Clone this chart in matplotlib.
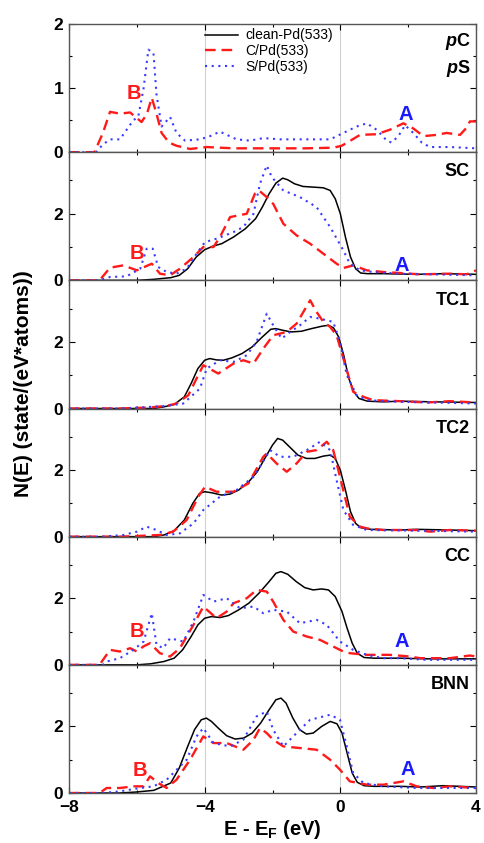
import matplotlib
matplotlib.use("Agg")
import matplotlib.pyplot as plt
from matplotlib.ticker import MultipleLocator

plt.rcParams['font.family'] = ['Liberation Sans', 'DejaVu Sans']
plt.rcParams['mathtext.fontset'] = 'custom'
plt.rcParams['mathtext.rm'] = 'Liberation Sans:bold'
plt.rcParams['mathtext.bf'] = 'Liberation Sans:bold'
plt.rcParams['mathtext.it'] = 'Liberation Sans:italic:bold'

# --- data (E - E_F in eV, N(E)) ---

# panel pC / pS
p1_c_E = [-8, -7.25, -7.0, -6.79, -6.5, -6.2, -5.86, -5.7, -5.56, -5.42, -5.27, -5.05, -4.83, -4.43, -3.94, -3.15, -2.0, -1.0, -0.2, 0.04, 0.3, 0.58, 1.07, 1.46, 1.86, 2.15, 2.45, 2.84, 3.13, 3.53, 3.72, 3.82, 4.0]
p1_c_N = [0, 0, 0.3, 0.63, 0.6, 0.62, 0.47, 0.6, 0.85, 0.6, 0.3, 0.15, 0.1, 0.05, 0.08, 0.06, 0.06, 0.06, 0.07, 0.1, 0.18, 0.27, 0.28, 0.35, 0.45, 0.37, 0.25, 0.27, 0.3, 0.27, 0.38, 0.48, 0.48]
p1_s_E = [-8, -7.2, -7.0, -6.79, -6.5, -6.1, -5.96, -5.8, -5.66, -5.51, -5.42, -5.27, -5.02, -4.83, -4.58, -4.14, -3.84, -3.55, -3.06, -2.66, -2.27, -1.78, -1.19, -0.7, -0.3, 0.09, 0.48, 0.78, 1.07, 1.37, 1.51, 1.71, 1.91, 2.15, 2.4, 2.64, 3.23, 4.0]
p1_s_N = [0, 0, 0.12, 0.2, 0.2, 0.5, 0.55, 1.0, 1.6, 1.55, 0.9, 0.4, 0.55, 0.3, 0.18, 0.2, 0.25, 0.32, 0.2, 0.18, 0.22, 0.2, 0.2, 0.2, 0.2, 0.3, 0.4, 0.45, 0.35, 0.18, 0.15, 0.25, 0.42, 0.3, 0.15, 0.08, 0.08, 0.06]

# panel SC
sc_pd_E = [-8, -6.0, -5.5, -5.0, -4.75, -4.5, -4.25, -4.0, -3.75, -3.5, -3.15, -2.8, -2.5, -2.3, -2.1, -1.9, -1.7, -1.55, -1.35, -1.1, -0.8, -0.5, -0.3, -0.15, 0.0, 0.15, 0.3, 0.45, 0.6, 0.8, 1.27, 2.25, 3.04, 4.0]
sc_pd_N = [0, 0, 0.03, 0.08, 0.15, 0.35, 0.7, 0.92, 1.03, 1.1, 1.3, 1.55, 1.85, 2.2, 2.6, 2.92, 3.07, 3.02, 2.9, 2.82, 2.8, 2.78, 2.7, 2.45, 2.0, 1.3, 0.7, 0.35, 0.22, 0.2, 0.2, 0.18, 0.2, 0.18]
sc_c_E = [-8, -7.1, -6.79, -6.4, -6.0, -5.56, -5.32, -5.02, -4.73, -4.33, -4.04, -3.74, -3.55, -3.25, -2.76, -2.52, -2.4, -2.17, -1.98, -1.68, -1.29, -0.89, -0.5, -0.11, 0.09, 0.38, 0.78, 1.27, 1.76, 2.35, 3.23, 3.72, 4.0]
sc_c_N = [0, 0, 0.38, 0.45, 0.3, 0.5, 0.2, 0.15, 0.35, 0.7, 1.0, 1.0, 1.3, 1.9, 2.0, 2.6, 2.7, 2.5, 2.3, 1.7, 1.35, 1.1, 0.8, 0.5, 0.37, 0.45, 0.3, 0.25, 0.22, 0.18, 0.2, 0.18, 0.3]
sc_s_E = [-8, -7.1, -6.79, -6.3, -5.9, -5.71, -5.53, -5.37, -5.12, -4.83, -4.53, -4.24, -3.99, -3.65, -3.15, -2.86, -2.56, -2.37, -2.17, -2.02, -1.68, -1.19, -0.7, -0.3, 0.09, 0.28, 0.58, 0.97, 1.76, 2.74, 4.0]
sc_s_N = [0, 0, 0.1, 0.12, 0.35, 0.95, 0.95, 0.4, 0.25, 0.2, 0.35, 0.8, 1.15, 1.25, 1.45, 1.6, 2.0, 2.9, 3.45, 3.1, 2.7, 2.5, 2.2, 1.6, 0.9, 0.5, 0.3, 0.25, 0.2, 0.18, 0.15]

# panel TC1
tc1_pd_E = [-8, -5.5, -5.2, -4.9, -4.6, -4.4, -4.2, -4.0, -3.85, -3.65, -3.45, -3.2, -2.9, -2.6, -2.3, -2.05, -1.9, -1.7, -1.45, -1.15, -0.85, -0.55, -0.35, -0.2, -0.05, 0.1, 0.25, 0.4, 0.55, 0.8, 1.27, 1.76, 2.74, 4.0]
tc1_pd_N = [0, 0, 0.05, 0.12, 0.35, 0.75, 1.2, 1.45, 1.5, 1.46, 1.45, 1.52, 1.65, 1.85, 2.15, 2.38, 2.4, 2.35, 2.3, 2.32, 2.4, 2.47, 2.5, 2.42, 2.15, 1.6, 0.9, 0.5, 0.3, 0.22, 0.2, 0.22, 0.2, 0.18]
tc1_c_E = [-8, -6.5, -5.6, -5.12, -4.83, -4.48, -4.24, -4.04, -3.6, -3.15, -2.86, -2.56, -2.27, -1.98, -1.58, -1.29, -0.89, -0.7, -0.5, -0.3, -0.11, 0.09, 0.38, 0.68, 0.97, 1.76, 2.55, 3.23, 4.0]
tc1_c_N = [0, 0, 0.03, 0.08, 0.15, 0.4, 0.9, 1.3, 1.05, 1.35, 1.45, 1.35, 1.8, 2.2, 2.3, 2.55, 3.25, 2.9, 2.6, 2.45, 2.2, 1.5, 0.5, 0.35, 0.25, 0.22, 0.18, 0.22, 0.18]
tc1_s_E = [-8, -6.5, -5.9, -5.12, -4.63, -4.14, -3.94, -3.55, -3.15, -2.76, -2.47, -2.17, -1.98, -1.73, -1.48, -1.19, -0.89, -0.6, -0.21, -0.01, 0.19, 0.48, 0.78, 1.76, 2.74, 4.0]
tc1_s_N = [0, 0, 0.03, 0.08, 0.15, 0.6, 1.2, 1.45, 1.4, 1.6, 2.0, 2.85, 2.5, 2.1, 2.3, 2.5, 2.75, 2.7, 2.6, 2.0, 1.0, 0.4, 0.25, 0.2, 0.18, 0.15]

# panel TC2
tc2_pd_E = [-8, -5.5, -5.2, -4.9, -4.6, -4.35, -4.15, -4.0, -3.8, -3.5, -3.25, -3.0, -2.7, -2.45, -2.2, -2.0, -1.85, -1.7, -1.5, -1.25, -1.0, -0.75, -0.5, -0.3, -0.15, 0.0, 0.15, 0.3, 0.45, 0.6, 0.9, 1.76, 2.25, 3.23, 4.0]
tc2_pd_N = [0, 0, 0.05, 0.18, 0.5, 1.0, 1.3, 1.35, 1.32, 1.25, 1.28, 1.4, 1.65, 1.95, 2.4, 2.75, 2.95, 2.9, 2.7, 2.45, 2.35, 2.35, 2.42, 2.45, 2.35, 2.0, 1.4, 0.75, 0.4, 0.27, 0.22, 0.2, 0.22, 0.2, 0.18]
tc2_c_E = [-8, -6.5, -6.0, -5.32, -4.93, -4.53, -4.19, -3.99, -3.65, -3.15, -2.71, -2.27, -2.17, -1.88, -1.58, -1.29, -0.99, -0.7, -0.4, -0.21, -0.01, 0.28, 0.58, 0.78, 1.27, 2.25, 2.64, 3.23, 4.0]
tc2_c_N = [0, 0, 0.02, 0.05, 0.15, 0.5, 1.2, 1.5, 1.35, 1.35, 1.6, 2.4, 2.5, 2.2, 1.95, 2.2, 2.55, 2.6, 2.85, 2.6, 1.8, 0.6, 0.3, 0.25, 0.2, 0.2, 0.15, 0.2, 0.18]
tc2_s_E = [-8, -7.0, -6.4, -6.0, -5.71, -5.42, -5.12, -4.73, -4.33, -4.04, -3.55, -3.06, -2.56, -2.07, -1.78, -1.39, -0.99, -0.6, -0.3, -0.11, 0.09, 0.38, 0.78, 2.25, 4.0]
tc2_s_N = [0, 0, 0.05, 0.15, 0.3, 0.2, 0.05, 0.1, 0.4, 0.8, 1.2, 1.4, 1.8, 2.6, 2.4, 2.4, 2.6, 2.85, 2.6, 1.7, 0.8, 0.35, 0.2, 0.18, 0.15]

# panel CC
cc_pd_E = [-8, -6.0, -5.6, -5.2, -4.9, -4.65, -4.4, -4.2, -4.0, -3.8, -3.55, -3.3, -3.0, -2.7, -2.4, -2.1, -1.9, -1.75, -1.55, -1.3, -1.05, -0.8, -0.55, -0.35, -0.15, 0.05, 0.2, 0.35, 0.5, 0.7, 1.0, 1.76, 2.55, 4.0]
cc_pd_N = [0, 0, 0.03, 0.1, 0.2, 0.45, 0.85, 1.2, 1.4, 1.45, 1.42, 1.48, 1.65, 1.85, 2.15, 2.5, 2.75, 2.8, 2.72, 2.5, 2.32, 2.25, 2.28, 2.25, 2.05, 1.6, 1.1, 0.65, 0.35, 0.22, 0.2, 0.2, 0.18, 0.18]
cc_c_E = [-8, -7.1, -6.79, -6.5, -6.2, -6.0, -5.81, -5.61, -5.32, -5.02, -4.73, -4.33, -4.04, -3.65, -3.35, -3.15, -2.76, -2.47, -2.17, -1.98, -1.68, -1.39, -0.99, -0.6, -0.11, 0.09, 0.28, 0.78, 1.46, 2.05, 2.35, 3.23, 3.82, 4.0]
cc_c_N = [0, 0, 0.45, 0.4, 0.5, 0.4, 0.55, 0.65, 0.35, 0.25, 0.5, 1.2, 1.75, 1.4, 1.6, 1.85, 2.0, 2.25, 2.2, 1.9, 1.35, 1.0, 0.85, 0.75, 0.5, 0.4, 0.35, 0.3, 0.3, 0.25, 0.2, 0.2, 0.28, 0.25]
cc_s_E = [-8, -7.0, -6.89, -6.5, -6.1, -5.8, -5.56, -5.42, -5.22, -5.02, -4.63, -4.33, -4.04, -3.74, -3.35, -2.96, -2.56, -2.27, -1.98, -1.58, -1.19, -0.7, -0.4, -0.01, 0.38, 0.78, 1.27, 1.76, 2.55, 4.0]
cc_s_N = [0, 0, 0.1, 0.2, 0.45, 0.7, 1.55, 0.6, 0.5, 0.8, 0.7, 1.3, 2.1, 1.9, 2.0, 1.7, 1.75, 1.55, 1.65, 1.6, 1.25, 1.35, 1.2, 0.7, 0.45, 0.3, 0.2, 0.2, 0.15, 0.15]

# panel BNN
bnn_pd_E = [-8, -6.5, -6.0, -5.5, -5.0, -4.75, -4.5, -4.3, -4.1, -3.95, -3.8, -3.6, -3.35, -3.1, -2.85, -2.6, -2.35, -2.1, -1.9, -1.75, -1.6, -1.4, -1.2, -1.0, -0.8, -0.55, -0.3, -0.1, 0.05, 0.2, 0.35, 0.5, 0.7, 1.0, 1.76, 2.35, 3.04, 4.0]
bnn_pd_N = [0, 0, 0.03, 0.08, 0.3, 0.75, 1.4, 1.9, 2.2, 2.25, 2.15, 1.95, 1.72, 1.62, 1.65, 1.8, 2.1, 2.5, 2.8, 2.85, 2.7, 2.25, 1.9, 1.77, 1.8, 2.0, 2.15, 2.08, 1.8, 1.2, 0.6, 0.32, 0.22, 0.2, 0.2, 0.18, 0.22, 0.18]
bnn_c_E = [-8, -7.1, -6.89, -6.5, -6.1, -5.8, -5.61, -5.37, -5.12, -4.83, -4.43, -4.04, -3.74, -3.35, -2.86, -2.56, -2.37, -2.17, -1.98, -1.68, -1.19, -0.7, -0.3, -0.01, 0.28, 0.78, 1.27, 1.86, 2.25, 2.74, 3.23, 4.0]
bnn_c_N = [0, 0, 0.15, 0.15, 0.2, 0.2, 0.5, 0.3, 0.15, 0.4, 1.0, 1.7, 1.5, 1.5, 1.3, 1.6, 1.95, 1.8, 1.6, 1.4, 1.35, 1.3, 1.0, 0.7, 0.35, 0.25, 0.25, 0.35, 0.2, 0.15, 0.2, 0.15]
bnn_s_E = [-8, -7.0, -6.5, -5.9, -5.51, -5.12, -4.53, -4.24, -4.04, -3.74, -3.25, -2.86, -2.47, -2.17, -1.98, -1.68, -1.39, -0.89, -0.3, -0.01, 0.19, 0.38, 0.68, 1.27, 2.25, 4.0]
bnn_s_N = [0, 0, 0.05, 0.15, 0.2, 0.4, 1.0, 1.7, 1.95, 1.5, 1.4, 1.6, 2.3, 2.45, 1.9, 1.4, 1.7, 2.2, 2.35, 2.2, 1.4, 0.6, 0.3, 0.2, 0.15, 0.15]

panel_names = ["pC/pS", "SC", "TC1", "TC2", "CC", "BNN"]
legend_labels = ["clean-Pd(533)", "C/Pd(533)", "S/Pd(533)"]

# curves per panel: (clean, C, S); None where absent
panels = [
    (None, (p1_c_E, p1_c_N), (p1_s_E, p1_s_N)),
    ((sc_pd_E, sc_pd_N), (sc_c_E, sc_c_N), (sc_s_E, sc_s_N)),
    ((tc1_pd_E, tc1_pd_N), (tc1_c_E, tc1_c_N), (tc1_s_E, tc1_s_N)),
    ((tc2_pd_E, tc2_pd_N), (tc2_c_E, tc2_c_N), (tc2_s_E, tc2_s_N)),
    ((cc_pd_E, cc_pd_N), (cc_c_E, cc_c_N), (cc_s_E, cc_s_N)),
    ((bnn_pd_E, bnn_pd_N), (bnn_c_E, bnn_c_N), (bnn_s_E, bnn_s_N)),
]

# A / B peak labels: panel index -> ((B_E, B_N), (A_E, A_N))
peak_labels = {
    0: ((-6.1, 0.91), (1.93, 0.59)),
    1: ((-6.0, 0.8), (1.8, 0.45)),
    4: ((-6.0, 1.0), (1.8, 0.7)),
    5: ((-5.9, 0.67), (2.0, 0.72)),
}

styles = [
    dict(color="black", lw=1.1, ls="-"),
    dict(color="#ff1a1a", lw=1.7, ls=(0, (4.5, 2.5))),
    dict(color="#3a3aff", lw=1.5, ls=(0, (1, 2.2))),
]

fig = plt.figure(figsize=(4.84, 8.43), dpi=100)
left, right = 69 / 484, 476 / 484
top, bottom = 1 - 24 / 843, 1 - 793 / 843
h = (top - bottom) / 6

axes = []
for i in range(6):
    ax = fig.add_axes([left, top - (i + 1) * h, right - left, h])
    axes.append(ax)
    for (curve, st, lab) in zip(panels[i], styles, legend_labels):
        if curve is None:
            # keep an invisible handle for the legend
            ax.plot([], [], label=lab, **st)
            continue
        ax.plot(curve[0], curve[1], label=lab, **st)
    ax.set_xlim(-8, 4)
    if i == 0:
        ax.set_ylim(0, 2)
        ax.yaxis.set_major_locator(MultipleLocator(1))
        ax.yaxis.set_minor_locator(MultipleLocator(0.5))
    else:
        ax.set_ylim(0, 3.85)
        ax.yaxis.set_major_locator(MultipleLocator(2))
        ax.yaxis.set_minor_locator(MultipleLocator(1))
    ax.xaxis.set_major_locator(MultipleLocator(4))
    ax.xaxis.set_minor_locator(MultipleLocator(2))
    ax.grid(axis="x", color="#d0d0d0", lw=0.8)
    ax.tick_params(which="both", direction="in", top=True, right=True)
    ax.tick_params(which="major", length=4, width=0.8, labelsize=12.5, pad=4)
    ax.tick_params(axis="x", which="major", pad=5)
    ax.tick_params(which="minor", length=2.5, width=0.8)
    for lbl in ax.get_yticklabels():
        lbl.set_fontweight("bold")
    for sp in ax.spines.values():
        sp.set_color("#555555")
        sp.set_linewidth(1.0)
    if i < 5:
        ax.tick_params(labelbottom=False)
    else:
        for lbl in ax.get_xticklabels():
            lbl.set_fontweight("bold")
    if i == 0:
        ax.text(0.988, 0.862, r"$\it{p}$C", transform=ax.transAxes, ha="right",
                va="center", fontsize=13, fontweight="bold")
        ax.text(0.988, 0.656, r"$\it{p}$S", transform=ax.transAxes, ha="right",
                va="center", fontsize=13, fontweight="bold")
        ax.legend(loc="upper left", bbox_to_anchor=(0.334, 0.965), frameon=False,
                  fontsize=10, handlelength=2.4, labelspacing=0.12,
                  handletextpad=0.5, borderaxespad=0, borderpad=0)
    else:
        ax.text(0.985, 0.846, panel_names[i], transform=ax.transAxes, ha="right",
                va="center", fontsize=13, fontweight="bold")
    if i in peak_labels:
        (bx, by), (axx, ayy) = peak_labels[i]
        ax.text(bx, by, "B", color="#ff1a1a", fontsize=14.5, fontweight="bold",
                ha="center", va="center")
        ax.text(axx, ayy, "A", color="#1a1aff", fontsize=14.5, fontweight="bold",
                ha="center", va="center")

axes[-1].set_xlabel(r"E - E$_\mathbf{F}$ (eV)", fontsize=14.5, fontweight="bold", labelpad=2)
fig.text(0.048, 1 - 384 / 843, "N(E) (state/(eV*atoms))", rotation=90,
         ha="center", va="center", fontsize=15, fontweight="bold")

fig.savefig("out.png", dpi=100)
